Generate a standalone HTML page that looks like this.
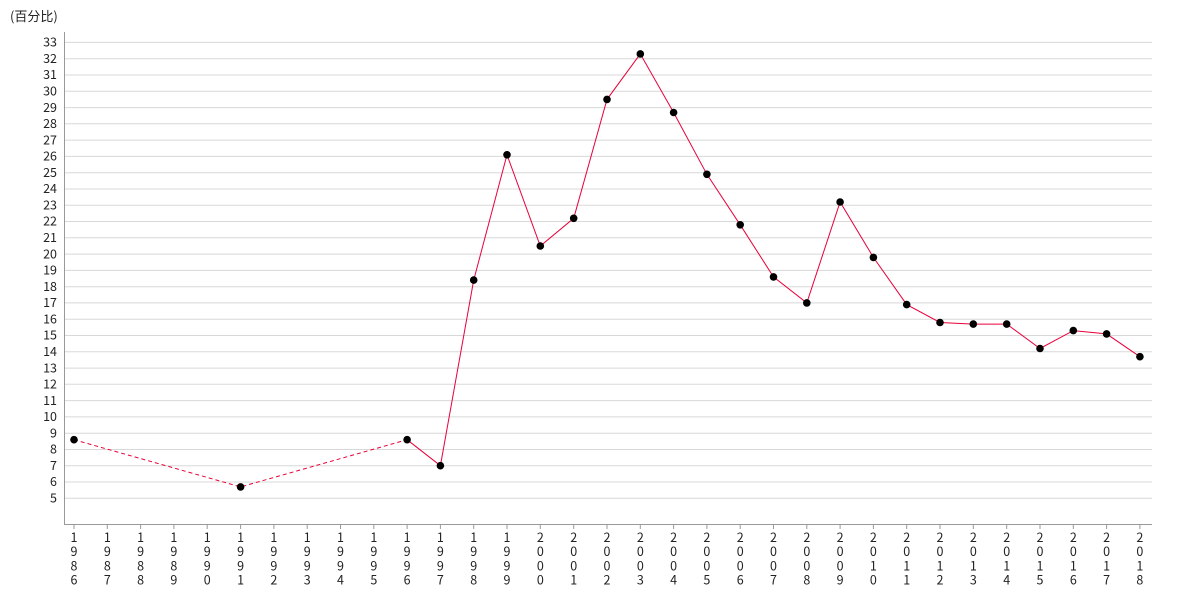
<!DOCTYPE html>
<html><head><meta charset="utf-8"><style>
html,body{margin:0;padding:0;background:#fff;width:1180px;height:600px;overflow:hidden}
svg text{font-family:"Noto Sans CJK SC","Liberation Sans",sans-serif;font-size:12.5px;fill:#222}
</style></head><body>
<svg width="1180" height="600" xmlns="http://www.w3.org/2000/svg">
<text x="10" y="21" style="font-size:13px">(百分比)</text>
<g stroke="#d8d8d8" stroke-width="1">
<line x1="64" x2="1152" y1="498.3" y2="498.3"/><line x1="64" x2="1152" y1="482" y2="482"/><line x1="64" x2="1152" y1="465.7" y2="465.7"/><line x1="64" x2="1152" y1="449.5" y2="449.5"/><line x1="64" x2="1152" y1="433.2" y2="433.2"/><line x1="64" x2="1152" y1="416.9" y2="416.9"/><line x1="64" x2="1152" y1="400.6" y2="400.6"/><line x1="64" x2="1152" y1="384.3" y2="384.3"/><line x1="64" x2="1152" y1="368.1" y2="368.1"/><line x1="64" x2="1152" y1="351.8" y2="351.8"/><line x1="64" x2="1152" y1="335.5" y2="335.5"/><line x1="64" x2="1152" y1="319.2" y2="319.2"/><line x1="64" x2="1152" y1="302.9" y2="302.9"/><line x1="64" x2="1152" y1="286.7" y2="286.7"/><line x1="64" x2="1152" y1="270.4" y2="270.4"/><line x1="64" x2="1152" y1="254.1" y2="254.1"/><line x1="64" x2="1152" y1="237.8" y2="237.8"/><line x1="64" x2="1152" y1="221.5" y2="221.5"/><line x1="64" x2="1152" y1="205.2" y2="205.2"/><line x1="64" x2="1152" y1="189" y2="189"/><line x1="64" x2="1152" y1="172.7" y2="172.7"/><line x1="64" x2="1152" y1="156.4" y2="156.4"/><line x1="64" x2="1152" y1="140.1" y2="140.1"/><line x1="64" x2="1152" y1="123.8" y2="123.8"/><line x1="64" x2="1152" y1="107.6" y2="107.6"/><line x1="64" x2="1152" y1="91.3" y2="91.3"/><line x1="64" x2="1152" y1="75" y2="75"/><line x1="64" x2="1152" y1="58.7" y2="58.7"/><line x1="64" x2="1152" y1="42.4" y2="42.4"/>
</g>
<g stroke="#999" stroke-width="1">
<line x1="64.5" x2="64.5" y1="32" y2="524"/>
<line x1="64" x2="1152" y1="524.5" y2="524.5"/>
</g>
<g text-anchor="end">
<text x="57" y="502.5">5</text><text x="57" y="486.2">6</text><text x="57" y="469.9">7</text><text x="57" y="453.7">8</text><text x="57" y="437.4">9</text><text x="57" y="421.1">10</text><text x="57" y="404.8">11</text><text x="57" y="388.5">12</text><text x="57" y="372.3">13</text><text x="57" y="356">14</text><text x="57" y="339.7">15</text><text x="57" y="323.4">16</text><text x="57" y="307.1">17</text><text x="57" y="290.9">18</text><text x="57" y="274.6">19</text><text x="57" y="258.3">20</text><text x="57" y="242">21</text><text x="57" y="225.7">22</text><text x="57" y="209.4">23</text><text x="57" y="193.2">24</text><text x="57" y="176.9">25</text><text x="57" y="160.6">26</text><text x="57" y="144.3">27</text><text x="57" y="128">28</text><text x="57" y="111.8">29</text><text x="57" y="95.5">30</text><text x="57" y="79.2">31</text><text x="57" y="62.9">32</text><text x="57" y="46.6">33</text>
</g>
<polyline fill="none" stroke="#e8003a" stroke-width="1" stroke-dasharray="4,3" points="74,439.7 240.6,486.9 407.1,439.7"/>
<polyline fill="none" stroke="#e8003a" stroke-width="1" points="407.1,439.7 440.4,465.7 473.7,280.1 507,154.8 540.3,246 573.7,218.3 607,99.4 640.3,53.9 673.6,112.5 706.9,174.3 740.2,224.8 773.5,276.9 806.8,302.9 840.1,202 873.4,257.4 906.7,304.6 940,322.5 973.3,324.1 1006.7,324.1 1040,348.5 1073.3,330.6 1106.6,333.9 1139.9,356.7"/>
<g fill="#000">
<circle cx="74" cy="439.7" r="3.8"/><circle cx="240.6" cy="486.9" r="3.8"/><circle cx="407.1" cy="439.7" r="3.8"/><circle cx="440.4" cy="465.7" r="3.8"/><circle cx="473.7" cy="280.1" r="3.8"/><circle cx="507" cy="154.8" r="3.8"/><circle cx="540.3" cy="246" r="3.8"/><circle cx="573.7" cy="218.3" r="3.8"/><circle cx="607" cy="99.4" r="3.8"/><circle cx="640.3" cy="53.9" r="3.8"/><circle cx="673.6" cy="112.5" r="3.8"/><circle cx="706.9" cy="174.3" r="3.8"/><circle cx="740.2" cy="224.8" r="3.8"/><circle cx="773.5" cy="276.9" r="3.8"/><circle cx="806.8" cy="302.9" r="3.8"/><circle cx="840.1" cy="202" r="3.8"/><circle cx="873.4" cy="257.4" r="3.8"/><circle cx="906.7" cy="304.6" r="3.8"/><circle cx="940" cy="322.5" r="3.8"/><circle cx="973.3" cy="324.1" r="3.8"/><circle cx="1006.7" cy="324.1" r="3.8"/><circle cx="1040" cy="348.5" r="3.8"/><circle cx="1073.3" cy="330.6" r="3.8"/><circle cx="1106.6" cy="333.9" r="3.8"/><circle cx="1139.9" cy="356.7" r="3.8"/>
</g>
<g stroke="#999" stroke-width="1">
<line x1="74" x2="74" y1="524" y2="529"/><line x1="107.3" x2="107.3" y1="524" y2="529"/><line x1="140.6" x2="140.6" y1="524" y2="529"/><line x1="173.9" x2="173.9" y1="524" y2="529"/><line x1="207.2" x2="207.2" y1="524" y2="529"/><line x1="240.6" x2="240.6" y1="524" y2="529"/><line x1="273.9" x2="273.9" y1="524" y2="529"/><line x1="307.2" x2="307.2" y1="524" y2="529"/><line x1="340.5" x2="340.5" y1="524" y2="529"/><line x1="373.8" x2="373.8" y1="524" y2="529"/><line x1="407.1" x2="407.1" y1="524" y2="529"/><line x1="440.4" x2="440.4" y1="524" y2="529"/><line x1="473.7" x2="473.7" y1="524" y2="529"/><line x1="507" x2="507" y1="524" y2="529"/><line x1="540.3" x2="540.3" y1="524" y2="529"/><line x1="573.7" x2="573.7" y1="524" y2="529"/><line x1="607" x2="607" y1="524" y2="529"/><line x1="640.3" x2="640.3" y1="524" y2="529"/><line x1="673.6" x2="673.6" y1="524" y2="529"/><line x1="706.9" x2="706.9" y1="524" y2="529"/><line x1="740.2" x2="740.2" y1="524" y2="529"/><line x1="773.5" x2="773.5" y1="524" y2="529"/><line x1="806.8" x2="806.8" y1="524" y2="529"/><line x1="840.1" x2="840.1" y1="524" y2="529"/><line x1="873.4" x2="873.4" y1="524" y2="529"/><line x1="906.7" x2="906.7" y1="524" y2="529"/><line x1="940" x2="940" y1="524" y2="529"/><line x1="973.3" x2="973.3" y1="524" y2="529"/><line x1="1006.7" x2="1006.7" y1="524" y2="529"/><line x1="1040" x2="1040" y1="524" y2="529"/><line x1="1073.3" x2="1073.3" y1="524" y2="529"/><line x1="1106.6" x2="1106.6" y1="524" y2="529"/><line x1="1139.9" x2="1139.9" y1="524" y2="529"/>
</g>
<g text-anchor="middle">
<text y="542"><tspan x="74">1</tspan><tspan x="74" dy="14.2">9</tspan><tspan x="74" dy="14.2">8</tspan><tspan x="74" dy="14.2">6</tspan></text>
<text y="542"><tspan x="107.3">1</tspan><tspan x="107.3" dy="14.2">9</tspan><tspan x="107.3" dy="14.2">8</tspan><tspan x="107.3" dy="14.2">7</tspan></text>
<text y="542"><tspan x="140.6">1</tspan><tspan x="140.6" dy="14.2">9</tspan><tspan x="140.6" dy="14.2">8</tspan><tspan x="140.6" dy="14.2">8</tspan></text>
<text y="542"><tspan x="173.9">1</tspan><tspan x="173.9" dy="14.2">9</tspan><tspan x="173.9" dy="14.2">8</tspan><tspan x="173.9" dy="14.2">9</tspan></text>
<text y="542"><tspan x="207.2">1</tspan><tspan x="207.2" dy="14.2">9</tspan><tspan x="207.2" dy="14.2">9</tspan><tspan x="207.2" dy="14.2">0</tspan></text>
<text y="542"><tspan x="240.6">1</tspan><tspan x="240.6" dy="14.2">9</tspan><tspan x="240.6" dy="14.2">9</tspan><tspan x="240.6" dy="14.2">1</tspan></text>
<text y="542"><tspan x="273.9">1</tspan><tspan x="273.9" dy="14.2">9</tspan><tspan x="273.9" dy="14.2">9</tspan><tspan x="273.9" dy="14.2">2</tspan></text>
<text y="542"><tspan x="307.2">1</tspan><tspan x="307.2" dy="14.2">9</tspan><tspan x="307.2" dy="14.2">9</tspan><tspan x="307.2" dy="14.2">3</tspan></text>
<text y="542"><tspan x="340.5">1</tspan><tspan x="340.5" dy="14.2">9</tspan><tspan x="340.5" dy="14.2">9</tspan><tspan x="340.5" dy="14.2">4</tspan></text>
<text y="542"><tspan x="373.8">1</tspan><tspan x="373.8" dy="14.2">9</tspan><tspan x="373.8" dy="14.2">9</tspan><tspan x="373.8" dy="14.2">5</tspan></text>
<text y="542"><tspan x="407.1">1</tspan><tspan x="407.1" dy="14.2">9</tspan><tspan x="407.1" dy="14.2">9</tspan><tspan x="407.1" dy="14.2">6</tspan></text>
<text y="542"><tspan x="440.4">1</tspan><tspan x="440.4" dy="14.2">9</tspan><tspan x="440.4" dy="14.2">9</tspan><tspan x="440.4" dy="14.2">7</tspan></text>
<text y="542"><tspan x="473.7">1</tspan><tspan x="473.7" dy="14.2">9</tspan><tspan x="473.7" dy="14.2">9</tspan><tspan x="473.7" dy="14.2">8</tspan></text>
<text y="542"><tspan x="507">1</tspan><tspan x="507" dy="14.2">9</tspan><tspan x="507" dy="14.2">9</tspan><tspan x="507" dy="14.2">9</tspan></text>
<text y="542"><tspan x="540.3">2</tspan><tspan x="540.3" dy="14.2">0</tspan><tspan x="540.3" dy="14.2">0</tspan><tspan x="540.3" dy="14.2">0</tspan></text>
<text y="542"><tspan x="573.7">2</tspan><tspan x="573.7" dy="14.2">0</tspan><tspan x="573.7" dy="14.2">0</tspan><tspan x="573.7" dy="14.2">1</tspan></text>
<text y="542"><tspan x="607">2</tspan><tspan x="607" dy="14.2">0</tspan><tspan x="607" dy="14.2">0</tspan><tspan x="607" dy="14.2">2</tspan></text>
<text y="542"><tspan x="640.3">2</tspan><tspan x="640.3" dy="14.2">0</tspan><tspan x="640.3" dy="14.2">0</tspan><tspan x="640.3" dy="14.2">3</tspan></text>
<text y="542"><tspan x="673.6">2</tspan><tspan x="673.6" dy="14.2">0</tspan><tspan x="673.6" dy="14.2">0</tspan><tspan x="673.6" dy="14.2">4</tspan></text>
<text y="542"><tspan x="706.9">2</tspan><tspan x="706.9" dy="14.2">0</tspan><tspan x="706.9" dy="14.2">0</tspan><tspan x="706.9" dy="14.2">5</tspan></text>
<text y="542"><tspan x="740.2">2</tspan><tspan x="740.2" dy="14.2">0</tspan><tspan x="740.2" dy="14.2">0</tspan><tspan x="740.2" dy="14.2">6</tspan></text>
<text y="542"><tspan x="773.5">2</tspan><tspan x="773.5" dy="14.2">0</tspan><tspan x="773.5" dy="14.2">0</tspan><tspan x="773.5" dy="14.2">7</tspan></text>
<text y="542"><tspan x="806.8">2</tspan><tspan x="806.8" dy="14.2">0</tspan><tspan x="806.8" dy="14.2">0</tspan><tspan x="806.8" dy="14.2">8</tspan></text>
<text y="542"><tspan x="840.1">2</tspan><tspan x="840.1" dy="14.2">0</tspan><tspan x="840.1" dy="14.2">0</tspan><tspan x="840.1" dy="14.2">9</tspan></text>
<text y="542"><tspan x="873.4">2</tspan><tspan x="873.4" dy="14.2">0</tspan><tspan x="873.4" dy="14.2">1</tspan><tspan x="873.4" dy="14.2">0</tspan></text>
<text y="542"><tspan x="906.7">2</tspan><tspan x="906.7" dy="14.2">0</tspan><tspan x="906.7" dy="14.2">1</tspan><tspan x="906.7" dy="14.2">1</tspan></text>
<text y="542"><tspan x="940">2</tspan><tspan x="940" dy="14.2">0</tspan><tspan x="940" dy="14.2">1</tspan><tspan x="940" dy="14.2">2</tspan></text>
<text y="542"><tspan x="973.3">2</tspan><tspan x="973.3" dy="14.2">0</tspan><tspan x="973.3" dy="14.2">1</tspan><tspan x="973.3" dy="14.2">3</tspan></text>
<text y="542"><tspan x="1006.7">2</tspan><tspan x="1006.7" dy="14.2">0</tspan><tspan x="1006.7" dy="14.2">1</tspan><tspan x="1006.7" dy="14.2">4</tspan></text>
<text y="542"><tspan x="1040">2</tspan><tspan x="1040" dy="14.2">0</tspan><tspan x="1040" dy="14.2">1</tspan><tspan x="1040" dy="14.2">5</tspan></text>
<text y="542"><tspan x="1073.3">2</tspan><tspan x="1073.3" dy="14.2">0</tspan><tspan x="1073.3" dy="14.2">1</tspan><tspan x="1073.3" dy="14.2">6</tspan></text>
<text y="542"><tspan x="1106.6">2</tspan><tspan x="1106.6" dy="14.2">0</tspan><tspan x="1106.6" dy="14.2">1</tspan><tspan x="1106.6" dy="14.2">7</tspan></text>
<text y="542"><tspan x="1139.9">2</tspan><tspan x="1139.9" dy="14.2">0</tspan><tspan x="1139.9" dy="14.2">1</tspan><tspan x="1139.9" dy="14.2">8</tspan></text>
</g>
</svg>
</body></html>
